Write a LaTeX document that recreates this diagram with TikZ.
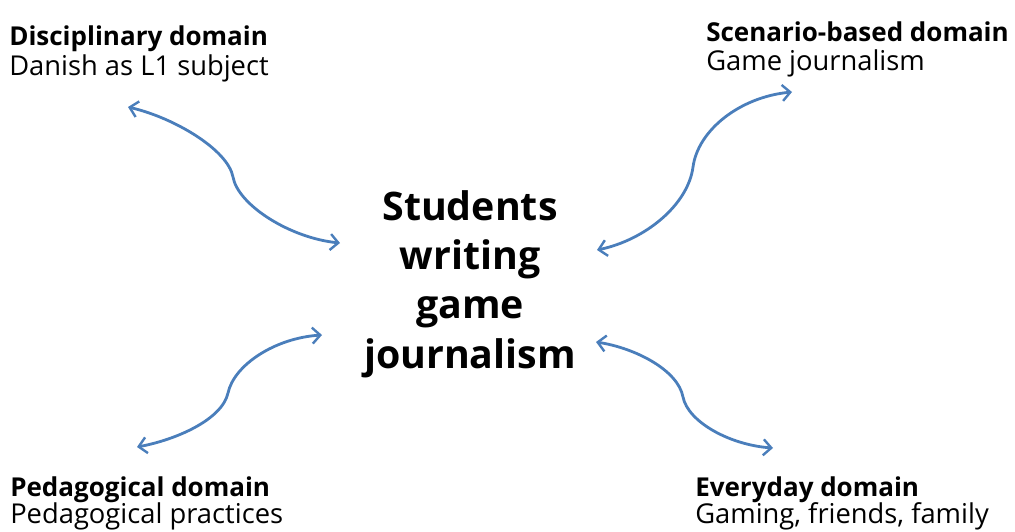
\documentclass[tikz,border=0pt]{standalone}
\usepackage{fontspec}
\setmainfont{Open Sans}
\usetikzlibrary{arrows.meta}
\definecolor{linkblue}{HTML}{4A7EBB}
\begin{document}
\begin{tikzpicture}[x=0.75pt,y=-0.75pt,
  title/.style={anchor=base west,inner sep=0pt,font=\fontsize{19.5}{23}\selectfont\bfseries},
  subtitle/.style={anchor=base west,inner sep=0pt,font=\fontsize{20.5}{24}\selectfont},
  hub/.style={align=center,inner sep=0pt,font=\fontsize{29.5}{37}\selectfont\bfseries},
  barbtip/.tip={Straight Barb[length=6pt,width=12pt,line width=1.8pt]},
  link/.style={draw=linkblue,line width=2.1pt,barbtip-barbtip}]
\useasboundingbox (0,0) rectangle (1015,532);
% domain labels
\node[title]    (dis-t) at (9,45)   {Disciplinary domain};
\node[subtitle] (dis-s) at (9,75)   {Danish as L1 subject};
\node[title]    (sce-t) at (706,41) {Scenario-based domain};
\node[subtitle] (sce-s) at (706,70) {Game journalism};
\node[title]    (ped-t) at (10,496) {Pedagogical domain};
\node[subtitle] (ped-s) at (10,523) {Pedagogical practices};
\node[title]    (eve-t) at (695,496) {Everyday domain};
\node[subtitle] (eve-s) at (695,523) {Gaming, friends, family};
% central topic
\node[hub] (hub) at (470,284) {Students\\writing\\game\\journalism};
% connector end points
\coordinate (tl-a) at (128,107);
\coordinate (tl-m) at (233,177);
\coordinate (tl-b) at (340,243);
\coordinate (tr-a) at (597,250);
\coordinate (tr-m) at (693,167);
\coordinate (tr-b) at (792,92);
\coordinate (bl-a) at (137,447);
\coordinate (bl-m) at (228,393);
\coordinate (bl-b) at (322,335);
\coordinate (br-a) at (596,342);
\coordinate (br-m) at (683,397);
\coordinate (br-b) at (773,448);
% S-shaped double arrows
\draw[link] (tl-a) .. controls (175,118) and (228,150) .. (tl-m)
                   .. controls (238,205) and (290,238) .. (tl-b);
\draw[link] (tr-a) .. controls (645,240) and (688,205) .. (tr-m)
                   .. controls (698,130) and (740,97) .. (tr-b);
\draw[link] (bl-a) .. controls (175,440) and (222,420) .. (bl-m)
                   .. controls (234,365) and (275,338) .. (bl-b);
\draw[link] (br-a) .. controls (635,348) and (678,370) .. (br-m)
                   .. controls (688,422) and (730,445) .. (br-b);
\end{tikzpicture}
\end{document}
